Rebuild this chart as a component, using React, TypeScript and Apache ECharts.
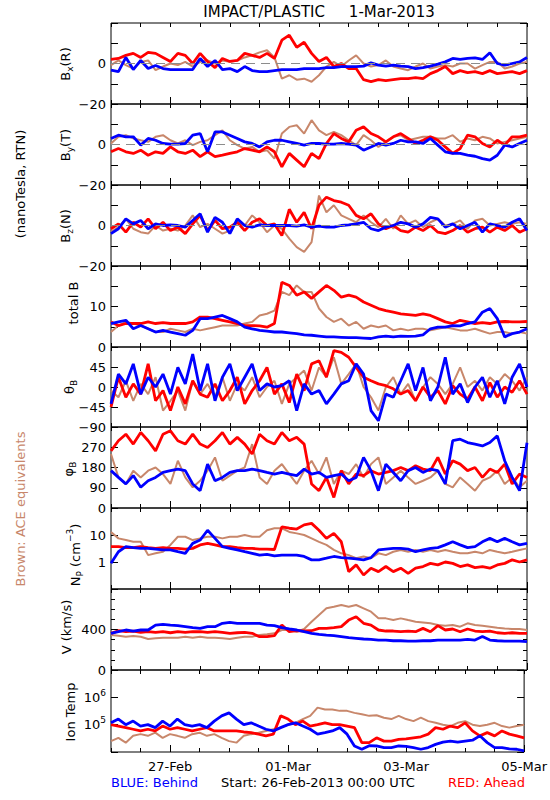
import React, { useEffect, useRef } from "react";
import * as echarts from "echarts";

const RED = "#ff0000";
const BLUE = "#0000ff";
const BROWN = "#c8876b";
const FONT = "DejaVu Sans";

// time axis: hours after 26-Feb-2013 00:00 UTC, one reading every 3 hours
const hours = Array.from({ length: 57 }, (_, i) => i * 3);
const dayTicks = [24, 72, 120, 168];
const dayLabels = ["27-Feb", "01-Mar", "03-Mar", "05-Mar"];

// Bx (R), nT
const bxRed = [2, 2.5, 4, 5, 3, 5.5, 5, 3, 1, 5, 4, 0, 5, 1, -2, 2.5, 1, 1.5, 5, 4, 3, 5, 2.5, 11.5, 14, 8, 10.5, 5, 1, 3, -1.5, 0, -2.5, -2.5, -8, -9, -8, -8.5, -8, -7.5, -7.5, -7, -7.5, -5, -3.5, -1.5, -5, -3.5, -4.5, -4, -5, -3.5, -5, -4.5, -4, -5, -3.5];
const bxBlue = [-3.3, -4, 3, -3, 1.5, -2.5, -1, -2.5, -3, -3, -3, -3, 2.5, -1.5, 1.5, -3, -2.5, -4, -1.5, -3.5, -4, -4, -3.5, -3, -3, -3, -2.5, -2.5, -2.5, -2, -2, -1.5, -1.5, -1.5, -1.3, 0.3, -0.8, -1.3, -0.8, -1.3, -1.5, -2.5, -2, -1.3, -0.3, 0.8, 2.5, 2, 2.5, 2.8, 2, 5.3, 0, -0.8, 0, 0.8, 3];
const bxAce = [-0.8, 1.5, -0.8, -2.5, 0.8, 1.5, -3.3, -1.5, 0, -0.8, 0.8, -1.5, 0.8, 1.5, 0, 1.5, 0.8, 1.5, 3, 4, 5.5, 6.5, 3, -7.5, -5.8, -8, -7.5, -9, -5.8, -1.5, 0.8, -1.5, 1.5, 4, 0, -1.5, -0.8, 1.5, -1.5, -2.5, -3.3, -1.5, 0, -2.5, -1.5, -0.8, -1.5, 0, 0, -2.5, -0.8, 0.8, 0.8, -2.5, -1.5, 0, 0.8];

// By (T), nT
const byRed = [-3.6, -2, -3.6, -4.4, -2.8, -5.3, -3.6, -4.4, -1.2, -3.6, -4.4, -2.8, -6, -3.6, -6, -5.3, -4.4, -3.6, -2, -2.8, -3.6, -1.2, -3.6, -11, -4.4, -7.7, -11, -4.4, -7, 0.5, 5.4, 3, 1.3, 7, 8.7, 5.4, 3.8, 1.3, 3.8, 5.4, 3, 0.5, 2.1, 3.8, 2.1, -1.2, -4.4, -2, 4.6, 3.8, 0.5, -1.2, 2.1, -0.3, 3.8, 3.8, 4.6];
const byBlue = [3, 4.6, 3.8, 3.8, -0.3, 3, 2.1, 0.5, 0.2, 0.2, 0.5, 4.6, 5.4, -3.6, 6.2, 6.2, 4.6, 3, 1.3, 0.5, -1.2, 1.3, 2.1, 2.1, 1.3, 0.5, -0.3, 0.5, 0.5, 0.2, 0.2, 0.5, 0.2, -0.3, -2.8, -1.2, 0.5, -0.3, 0.5, 2.1, 1.3, 1.3, 0.5, 3, -0.3, -3.6, -4.4, -4.4, -5.3, -5.8, -7, -7.7, -5.3, -0.3, -1.2, 0.5, 2.1];
const byAce = [0.5, 3.8, 4.6, 3, 2.1, 1.3, 3.8, 4.6, 2.1, 0.5, 2.1, -0.3, 1.3, 2.1, 4.6, 7, 2.1, -0.3, -2, -1.2, -3.6, -2.8, -7, 5.4, 8.7, 9.5, 5.4, 12, 7, 4.6, 6.2, 4.6, 2.1, -0.3, 4.6, 2.1, -1.2, 1.3, 3.8, 4.6, 2.1, 3, 3.8, 3.8, 3, 3, 4.6, 1.3, 3, 2.1, 3.8, 3, 0.5, 1.3, 2.1, 3, 3.8];

// Bz (N), nT
const bzRed = [-1.6, 0.8, -3.3, 1.6, -0.8, 3.3, -1.6, 1.6, -2.5, -0.8, -4, 0.8, 5, -2.5, 2.5, -1.6, -0.8, 1.6, -2.5, 1.6, 3.3, 0, 0.8, -5, 8, 1.6, 6.5, -1.6, 10, 14, 12.3, 11.5, 10, 5, 3.3, 5.8, 0.8, -1.6, 0, -2.5, -3.3, -0.8, -2.5, 0, -3.3, -4, -2.5, 0, -3.3, -1.6, -0.8, -3.3, -0.8, -2.5, 0, -3.3, -1.6];
const bzBlue = [-4, -1.6, 3.3, 0.8, 2.5, -1.6, 0.8, 0, 0.3, 0, -0.8, 2.5, 5.8, -3.3, 4, 1.6, -4, 3.3, 0, -0.8, 0.3, 0, 0, 0, 0, -0.3, 0.3, -0.8, -0.3, -0.8, -0.8, 0, 0.3, 0.8, 1.6, -1.6, -2.5, -0.8, 0, 1.6, 0.8, -0.8, 0.8, 4, 3.3, -0.8, 0.8, -1.6, 0, 1.6, -3.3, 0.8, 0, -0.8, 1.6, 3.3, -2.5];
const bzAce = [-3.3, -0.8, 3.3, -1.6, -3.3, -4, 0, -2.5, -1.6, -2.5, 0, 5, -0.8, 0.8, -1.6, -4, -2.5, 1.6, 0, 5, 1.6, -3.3, 0, -1.6, -6.5, -10.7, -13, -8.2, 14.8, 6.5, 10, 5, 3.3, 1.6, 5, 1.6, -0.8, 3.3, -1.6, 5, 0.8, 2.5, -0.8, 1.6, 3.3, 0, 0.8, 2.5, -1.6, 2.5, 3.3, 0, 0.8, 1.6, 0.8, 1.6, 0.8];

// total B, nT
const btRed = [6.2, 5.3, 5.8, 5.8, 5.8, 6.2, 5.8, 6, 5.8, 5.8, 5.8, 6.2, 7.4, 7.4, 7, 6.6, 6.2, 5.8, 5.3, 5.3, 5.2, 4.9, 5.8, 16, 15.2, 12.8, 13.6, 12, 13.6, 15.2, 14, 12.3, 12.8, 12.3, 11.1, 10.3, 9.5, 9, 8.6, 8.2, 8, 7.8, 8.2, 7.8, 7, 6.2, 5.8, 6.6, 6.2, 5.8, 6, 5.8, 6.2, 6.3, 6.2, 6.2, 6.3];
const btBlue = [5.8, 6.2, 6.6, 4.5, 5.3, 4.5, 3.7, 4.1, 3.7, 3.3, 2.9, 4.1, 7, 7, 7.4, 7.8, 7, 6.2, 4.9, 4.5, 4.1, 3.9, 3.7, 3.7, 3.5, 3.3, 3, 2.9, 2.7, 2.5, 2.5, 2.4, 2.3, 2.3, 2.2, 2.1, 2.5, 2.7, 2.5, 2.7, 2.6, 2.7, 3, 4.5, 4.9, 4.9, 5.3, 5.2, 5.8, 6.2, 8.6, 9.5, 7, 2.5, 3.3, 3.7, 4.5];
const btAce = [3.7, 5.3, 6.2, 5.8, 5.3, 4.5, 3.7, 3.7, 4.5, 4.1, 3.7, 4.5, 4.1, 4.5, 4.9, 5.3, 5.3, 5.3, 5.8, 6.2, 7.8, 8.2, 9, 13.6, 12.8, 15.2, 13.6, 13.6, 9.5, 7.4, 6.2, 7, 5.3, 6.2, 4.5, 5.3, 4.9, 5.3, 4.1, 4.5, 4.1, 4.5, 4.5, 4.1, 4.5, 4.9, 4.5, 4.1, 4.1, 4.5, 3.9, 3.3, 3.7, 3.7, 3.3, 3.7, 3.3];

// theta B, degrees
const thRed = [-45, 22, -23, 7, -16, 52, -31, -8, -53, 0, -38, 14, -16, -23, 7, -31, -8, 22, -38, -8, 14, 44, -16, 7, -35, 29, -8, 52, 59, 22, 82, 78, 67, 44, 22, 14, 7, 3, -4, -16, -8, -31, 0, -23, -8, -38, 3, -16, -27, 0, -31, 10, -23, 0, -12, 14, -16];
const thBlue = [-38, 29, 7, 52, -16, 22, 0, 29, -16, 44, 7, 74, -8, 52, -31, 22, 52, -8, 22, 52, -8, 7, 0, 3, 14, -53, 7, -16, -8, -38, -16, 7, 14, 52, 29, -53, -76, -16, -23, 14, 52, -8, 44, -31, 0, 67, -16, 7, -35, 0, 22, -23, 14, -38, 22, 52, 0];
const thAce = [-8, -23, 14, -31, 7, -16, 22, -53, -31, -8, -53, 14, -16, 7, -23, 22, -31, 7, -8, 22, -23, 0, 14, -38, 7, 22, 37, -8, 44, 22, 67, 7, 29, 52, 0, -23, -53, 0, 22, -16, 7, -31, 0, 22, 7, -16, 7, 44, 0, 14, -8, 22, 7, 29, 14, -8, 22];

// phi B, degrees
const phRed = [254, 299, 328, 284, 336, 299, 254, 328, 343, 299, 284, 328, 284, 269, 299, 336, 284, 314, 284, 240, 328, 299, 284, 336, 299, 314, 284, 107, 77, 136, 47, 166, 107, 151, 144, 166, 151, 158, 166, 180, 166, 188, 173, 166, 225, 151, 210, 195, 166, 180, 136, 173, 158, 195, 107, 151, 136];
const phBlue = [166, 136, 107, 144, 92, 121, 136, 158, 166, 173, 166, 107, 77, 195, 121, 136, 158, 166, 166, 173, 166, 158, 151, 158, 151, 144, 173, 151, 158, 136, 144, 151, 121, 136, 225, 166, 77, 195, 158, 121, 166, 180, 158, 173, 166, 107, 299, 306, 291, 284, 276, 291, 321, 210, 136, 77, 290];
const phAce = [240, 136, 107, 166, 136, 166, 180, 151, 107, 210, 136, 92, 121, 166, 225, 121, 144, 166, 180, 284, 136, 107, 166, 195, 151, 107, 166, 210, 151, 225, 107, 166, 151, 195, 136, 195, 225, 107, 136, 166, 136, 107, 121, 136, 166, 107, 92, 136, 107, 77, 121, 136, 166, 107, 136, 92, 121];

// proton density, cm^-3
const npRed = [3.7, 3.7, 3.4, 3.4, 3.7, 3.4, 3.2, 3.4, 3.2, 3.2, 3.0, 3.2, 4.3, 4.9, 4.3, 3.7, 3.7, 3.4, 3.2, 3.2, 3.0, 3.0, 2.9, 20, 17.8, 16.6, 23.7, 27, 15, 7.5, 11.5, 5.6, 0.44, 0.78, 0.33, 0.59, 0.44, 0.68, 0.44, 0.59, 0.38, 0.59, 0.68, 0.89, 0.78, 1.0, 0.89, 0.68, 0.78, 0.62, 0.68, 0.59, 0.78, 0.89, 1.2, 1.0, 1.2];
const npBlue = [0.89, 2.4, 3.7, 3.4, 3.2, 3.2, 3.0, 2.8, 2.8, 2.4, 2.1, 4.9, 6.5, 15, 7.5, 3.7, 3.2, 2.8, 2.4, 2.1, 1.8, 1.9, 1.7, 1.8, 1.8, 1.8, 1.6, 1.2, 1.2, 1.38, 1.6, 1.45, 1.38, 1.3, 1.2, 1.45, 2.8, 3.0, 3.2, 3.2, 3.0, 2.4, 2.8, 3.2, 3.4, 4.3, 5.6, 4.3, 3.4, 3.7, 5.6, 7.5, 5.6, 7.5, 5.6, 4.3, 4.9];
const npAce = [13, 7.5, 6.5, 5.6, 5.6, 1.8, 2.1, 2.4, 4.3, 8.6, 8.6, 6.5, 7.5, 8.6, 8.6, 7.5, 8.6, 8.6, 10, 8.6, 8.6, 15, 17.8, 17.8, 13, 11.5, 10, 7.5, 5.6, 4.3, 2.8, 2.1, 1.8, 1.38, 1.6, 1.38, 2.1, 1.8, 2.4, 2.8, 2.4, 2.8, 2.4, 2.8, 2.4, 2.8, 2.4, 2.1, 2.1, 2.4, 2.1, 2.8, 2.4, 2.1, 2.4, 2.8, 3.2];

// bulk speed, km/s
const vRed = [362, 388, 378, 385, 372, 378, 372, 378, 368, 378, 372, 378, 378, 372, 378, 372, 362, 368, 372, 362, 329, 329, 339, 444, 378, 388, 385, 388, 411, 411, 418, 428, 493, 526, 461, 444, 395, 385, 385, 378, 385, 378, 411, 378, 438, 395, 405, 378, 405, 385, 378, 385, 368, 362, 368, 362, 362];
const vBlue = [362, 378, 395, 385, 395, 395, 444, 451, 444, 438, 428, 418, 411, 428, 428, 461, 470, 461, 461, 461, 461, 444, 438, 418, 405, 395, 378, 362, 352, 345, 339, 329, 319, 313, 306, 303, 296, 296, 289, 289, 286, 286, 289, 289, 296, 296, 296, 296, 303, 296, 330, 296, 289, 286, 286, 286, 280];
const vAce = [345, 339, 329, 335, 329, 306, 313, 319, 319, 319, 329, 319, 329, 319, 319, 313, 306, 319, 329, 329, 345, 352, 362, 395, 395, 378, 405, 477, 543, 609, 625, 642, 625, 642, 609, 576, 510, 510, 493, 510, 493, 477, 470, 461, 444, 438, 444, 428, 461, 444, 438, 428, 418, 411, 405, 405, 395];

// ion temperature, K
const tRed = [1.0e5, 8.9e4, 7.8e4, 6.8e4, 5.9e4, 6.8e4, 5.9e4, 8.9e4, 6.8e4, 7.8e4, 6.8e4, 5.9e4, 6.8e4, 7.8e4, 5.9e4, 5.9e4, 5.9e4, 5.9e4, 5.4e4, 5.1e4, 4.5e4, 3.9e4, 4.5e4, 2.1e5, 1.6e5, 1.0e5, 1.35e5, 8.9e4, 1.0e5, 1.17e5, 1.0e5, 1.0e5, 8.9e4, 7.8e4, 2.2e4, 2.2e4, 3.3e4, 2.5e4, 2.5e4, 2.9e4, 3.0e4, 3.3e4, 3.6e4, 4.5e4, 7.8e4, 6.8e4, 8.9e4, 7.8e4, 1.17e5, 5.9e4, 3.9e4, 5.1e4, 3.9e4, 5.9e4, 4.5e4, 3.9e4, 3.3e4];
const tBlue = [1.17e5, 1.6e5, 1.0e5, 1.35e5, 8.9e4, 1.0e5, 7.8e4, 1.35e5, 8.9e4, 1.6e5, 1.0e5, 8.9e4, 1.0e5, 7.8e4, 1.35e5, 2.1e5, 2.7e5, 1.6e5, 1.0e5, 1.17e5, 8.9e4, 6.8e4, 5.9e4, 7.8e4, 1.0e5, 1.17e5, 8.9e4, 6.8e4, 4.5e4, 5.1e4, 5.9e4, 7.8e4, 4.5e4, 1.66e4, 1.26e4, 1.7e4, 1.66e4, 1.45e4, 1.45e4, 1.66e4, 1.6e4, 1.45e4, 1.26e4, 1.45e4, 1.9e4, 2.3e4, 2.5e4, 2.3e4, 2.5e4, 2.7e4, 3.9e4, 2.2e4, 1.45e4, 1.45e4, 1.3e4, 1.26e4, 1.1e4];
const tAce = [2.5e4, 3.3e4, 2.2e4, 3.9e4, 4.5e4, 3.9e4, 5.1e4, 3.3e4, 4.5e4, 3.9e4, 3.3e4, 4.5e4, 5.1e4, 3.9e4, 4.5e4, 3.3e4, 2.5e4, 2.2e4, 3.9e4, 4.5e4, 5.1e4, 5.9e4, 6.8e4, 7.8e4, 1.0e5, 1.17e5, 1.6e5, 2.1e5, 4.2e5, 3.6e5, 3.6e5, 3.2e5, 3.2e5, 2.7e5, 2.4e5, 2.1e5, 2.2e5, 1.8e5, 1.6e5, 2.1e5, 1.6e5, 1.35e5, 1.8e5, 1.35e5, 1.17e5, 1.0e5, 8.9e4, 1.17e5, 1.35e5, 1.0e5, 8.9e4, 1.0e5, 1.17e5, 8.9e4, 7.8e4, 8.9e4, 1.0e5];

// axis titles: [text, kind] where kind n = normal, b = subscript, p = superscript
type Part = [string, "n" | "b" | "p"];

type Panel = {
  name: Part[]; nameX: number; nameY: number;
  log?: boolean; min: number; max: number; interval?: number; minorSplit?: number;
  labels: number[]; sup?: boolean; zero?: boolean;
  red: number[]; blue: number[]; ace: number[];
};

const panels: Panel[] = [
  { name: [["B", "n"], ["x", "b"], ["(R)", "n"]], nameX: 65, nameY: 64, min: -20, max: 20, interval: 10, labels: [-20, 0], zero: true, red: bxRed, blue: bxBlue, ace: bxAce },
  { name: [["B", "n"], ["y", "b"], ["(T)", "n"]], nameX: 65, nameY: 145, min: -20, max: 20, interval: 10, labels: [-20, 0], zero: true, red: byRed, blue: byBlue, ace: byAce },
  { name: [["B", "n"], ["z", "b"], ["(N)", "n"]], nameX: 65, nameY: 226, min: -20, max: 20, interval: 10, labels: [-20, 0], zero: true, red: bzRed, blue: bzBlue, ace: bzAce },
  { name: [["total B", "n"]], nameX: 73, nameY: 303, min: 0, max: 20, interval: 5, labels: [0, 10], red: btRed, blue: btBlue, ace: btAce },
  { name: [["θ", "n"], ["B", "b"]], nameX: 69, nameY: 387, min: -90, max: 90, interval: 45, labels: [-90, -45, 0, 45], red: thRed, blue: thBlue, ace: thAce },
  { name: [["φ", "n"], ["B", "b"]], nameX: 68, nameY: 469, min: 0, max: 360, interval: 90, labels: [0, 90, 180, 270], red: phRed, blue: phBlue, ace: phAce },
  { name: [["N", "n"], ["P", "b"], [" (cm", "n"], ["−3", "p"], [")", "n"]], nameX: 75, nameY: 555, log: true, min: 0.1, max: 100, labels: [1, 10], red: npRed, blue: npBlue, ace: npAce },
  { name: [["V (km/s)", "n"]], nameX: 66, nameY: 627, min: 0, max: 800, interval: 400, minorSplit: 4, labels: [0, 400], red: vRed, blue: vBlue, ace: vAce },
  { name: [["Ion Temp", "n"]], nameX: 70, nameY: 712, log: true, min: 1e4, max: 1e7, labels: [1e5, 1e6], sup: true, red: tRed, blue: tBlue, ace: tAce },
];

const PHI_PANEL = 5;

const gridTops = [23, 104, 185, 266, 347, 427, 508, 589, 670];
const gridHeights = [81, 81, 81, 81, 80, 81, 81, 81, 82];
const GRID_LEFT = 111;

let measureCtx: CanvasRenderingContext2D | null = null;
function textWidth(s: string, size: number) {
  if (!measureCtx) measureCtx = document.createElement("canvas").getContext("2d");
  if (!measureCtx) return s.length * size * 0.6;
  measureCtx.font = `${size}px "${FONT}"`;
  return measureCtx.measureText(s).width;
}

function verticalTitle(x: number, y: number, parts: Part[]) {
  const sizes = parts.map(([, k]) => (k === "n" ? 13 : 9));
  const widths = parts.map(([t], i) => textWidth(t, sizes[i]));
  const total = widths.reduce((a, b) => a + b, 0);
  let off = -total / 2;
  const children = parts.map(([t, k], i) => {
    const el = {
      type: "text", x: off, y: k === "b" ? 5 : k === "p" ? -5 : 0, silent: true,
      style: { text: t, fill: "#000", fontFamily: FONT, fontSize: sizes[i], align: "left", verticalAlign: "middle" },
    };
    off += widths[i];
    return el;
  });
  return { type: "group", x, y, rotation: Math.PI / 2, silent: true, children };
}

function labelText(p: Panel, v: number) {
  if (p.log) {
    const e = Math.round(Math.log10(v));
    if (p.sup) return "{n|10}{sup|" + e + "}";
    return String(Math.pow(10, e));
  }
  return String(Math.round(v)).replace("-", "−");
}

const txt = (x: number, y: number, text: string, opts: any = {}) => ({
  type: "text", x, y, rotation: opts.rotation || 0, silent: true, z: opts.z || 0,
  style: {
    text, fill: opts.fill || "#000", fontFamily: FONT, fontSize: opts.fontSize || 13,
    align: opts.align || "center", verticalAlign: "middle",
  },
});

function buildOption() {
  const grid: any[] = [];
  const xAxis: any[] = [];
  const yAxis: any[] = [];
  const series: any[] = [];
  const tickStyle = { color: "#000", width: 1 };
  const labelRich = {
    n: { fontSize: 13, fontFamily: FONT, color: "#000", lineHeight: 18 },
    sup: { fontSize: 9, fontFamily: FONT, color: "#000", verticalAlign: "top", lineHeight: 9 },
  };

  panels.forEach((p, g) => {
    grid.push({
      left: GRID_LEFT, width: 416, top: gridTops[g], height: gridHeights[g],
      show: true, borderColor: "#000", borderWidth: 1, backgroundColor: "transparent",
    });
    const last = g === panels.length - 1;
    const xBase = { gridIndex: g, type: "value", min: 0, max: 168, splitLine: { show: false }, axisLine: { show: false, onZero: false } };
    xAxis.push({
      ...xBase, position: "bottom", interval: 12,
      axisTick: { show: true, inside: true, length: 4, lineStyle: tickStyle },
      axisLabel: last
        ? {
            show: true, margin: 8, color: "#000", fontFamily: FONT, fontSize: 13,
            customValues: dayTicks, showMinLabel: true, showMaxLabel: true, hideOverlap: false,
            formatter: (v: number) => { const k = dayTicks.indexOf(v); return k >= 0 ? dayLabels[k] : ""; },
          }
        : { show: false },
    });
    xAxis.push({
      ...xBase, position: "bottom", interval: 12,
      axisTick: { show: true, inside: true, length: 7, lineStyle: tickStyle, customValues: dayTicks },
      axisLabel: { show: false },
    });
    xAxis.push({
      ...xBase, position: "top", interval: 12,
      axisTick: { show: true, inside: true, length: 4, lineStyle: tickStyle },
      axisLabel: { show: false },
    });

    const yBase: any = {
      gridIndex: g, type: p.log ? "log" : "value", min: p.min, max: p.max,
      splitLine: { show: false }, axisLine: { show: false, onZero: false },
      axisTick: { show: true, inside: true, length: 7, lineStyle: tickStyle },
    };
    if (p.log) yBase.logBase = 10; else yBase.interval = p.interval;
    if (p.minorSplit) yBase.minorTick = { show: true, splitNumber: p.minorSplit, length: 4, lineStyle: tickStyle };
    const axisLabelValues = g === PHI_PANEL ? p.labels.filter((v) => v !== p.min) : p.labels;
    yAxis.push({
      ...yBase, position: "left",
      axisLabel: {
        show: true, margin: 5, color: "#000", fontFamily: FONT, fontSize: 13,
        customValues: axisLabelValues, showMinLabel: true, showMaxLabel: true, hideOverlap: false,
        rich: labelRich,
        formatter: (v: number) => labelText(p, v),
      },
    });
    yAxis.push({ ...yBase, position: "right", axisLabel: { show: false } });

    const mk = (data: number[], color: string, width: number, z: number, zero?: boolean) => {
      const s: any = {
        type: "line", xAxisIndex: 3 * g, yAxisIndex: 2 * g, z, silent: true,
        data: hours.map((h, i) => [h, data[i]]),
        symbol: "none", showSymbol: false, clip: true,
        lineStyle: { color, width }, itemStyle: { color },
      };
      if (zero) {
        s.markLine = {
          silent: true, symbol: "none", label: { show: false },
          lineStyle: { color: "#8c8c8c", type: [9, 6], width: 1 },
          data: [{ yAxis: 0 }],
        };
      }
      return s;
    };
    series.push(mk(p.ace, BROWN, 2, 2, p.zero));
    series.push(mk(p.red, RED, 2.8, 3));
    series.push(mk(p.blue, BLUE, 2.8, 4));
  });

  const phi = panels[PHI_PANEL];
  const graphic: any[] = [
    txt(319, 12, "IMPACT/PLASTIC     1-Mar-2013", { fontSize: 15 }),
    txt(20, 184, "(nanoTesla, RTN)", { rotation: Math.PI / 2 }),
    txt(20, 509, "Brown: ACE equivalents", { rotation: Math.PI / 2, fill: BROWN }),
    txt(111, 782, "BLUE: Behind", { align: "left", fill: BLUE }),
    txt(318, 782, "Start: 26-Feb-2013 00:00 UTC", {}),
    txt(525, 782, "RED: Ahead", { align: "right", fill: RED }),
    // φB panel's lowest tick label, at the bottom edge of its grid
    txt(GRID_LEFT - 5, gridTops[PHI_PANEL] + gridHeights[PHI_PANEL], labelText(phi, phi.min), { align: "right", z: 200 }),
  ];
  panels.forEach((p) => graphic.push(verticalTitle(p.nameX, p.nameY, p.name)));

  return {
    animation: false,
    backgroundColor: "#fff",
    grid, xAxis, yAxis, series, graphic,
  };
}

export default function App() {
  const ref = useRef<HTMLDivElement>(null);
  useEffect(() => {
    if (!ref.current) return;
    const chart = echarts.init(ref.current, null, { renderer: "svg" });
    chart.setOption(buildOption() as any);
    return () => chart.dispose();
  }, []);
  return (
    <div
      ref={ref}
      style={{ position: "absolute", left: 0, top: 0, width: 550, height: 800, background: "#fff" }}
    />
  );
}
